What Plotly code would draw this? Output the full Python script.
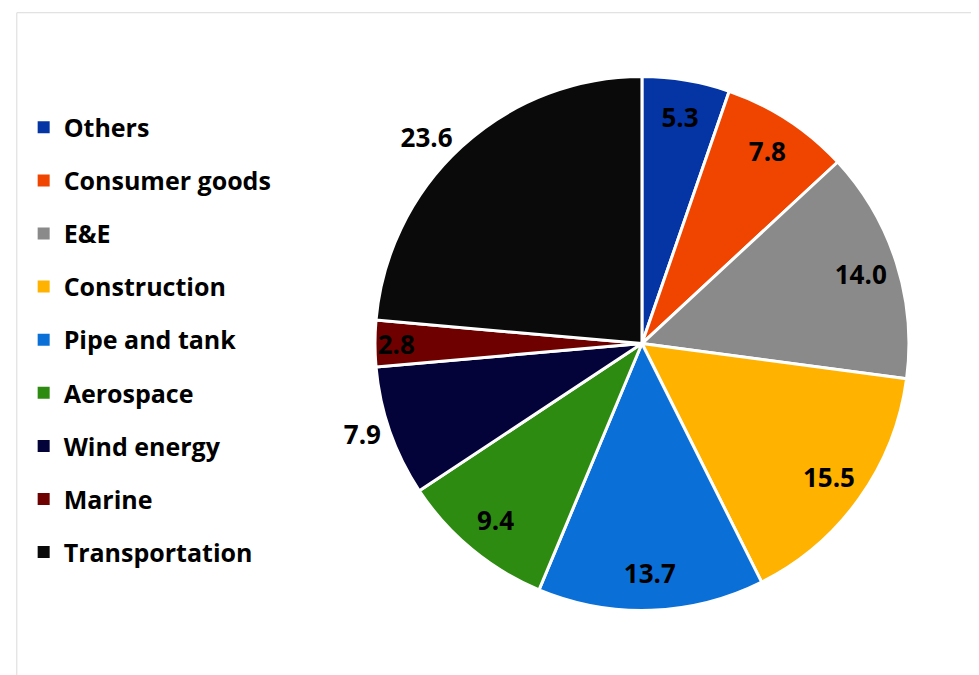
import plotly.graph_objects as go

categories = ["Others", "Consumer goods", "E&E", "Construction", "Pipe and tank",
              "Aerospace", "Wind energy", "Marine", "Transportation"]
values = [5.3, 7.8, 14.0, 15.5, 13.7, 9.4, 7.9, 2.8, 23.6]
colors = ["#0535A5", "#F04500", "#8A8A8A", "#FFB300", "#0A70D8",
          "#2E8B12", "#03033A", "#6E0000", "#0A0A0A"]
outside_label = [False, False, False, False, False, False, True, False, True]

FONT = "Open Sans"
DOMAIN = dict(x=[0.3739, 0.9212], y=[0.1074, 0.8984])
LABEL_FONT = dict(family=FONT, size=26, color="black", weight="bold")

fig = go.Figure()
# main pie: slices + outside labels
fig.add_trace(go.Pie(
    labels=categories, values=values, sort=False, direction="clockwise",
    rotation=0,
    marker=dict(colors=colors, line=dict(color="white", width=3)),
    text=[f"{v:.1f}" if o else "" for v, o in zip(values, outside_label)],
    texttemplate="%{text}", textposition="outside",
    textfont=LABEL_FONT,
    showlegend=False, hoverinfo="label+value",
    domain=DOMAIN,
))
# transparent ring: places inside labels toward the outer edge
fig.add_trace(go.Pie(
    labels=categories, values=values, sort=False, direction="clockwise",
    rotation=0, hole=0.72,
    marker=dict(colors=["rgba(0,0,0,0)"] * len(values), line=dict(width=0)),
    text=["" if o else f"{v:.1f}" for v, o in zip(values, outside_label)],
    texttemplate="%{text}", textposition="inside",
    insidetextorientation="horizontal",
    textfont=LABEL_FONT,
    showlegend=False, hoverinfo="skip",
    domain=DOMAIN,
))

for i, (c, col) in enumerate(zip(categories, colors)):
    fig.add_trace(go.Scatter(
        x=[None], y=[None], mode="markers", name=c,
        marker=dict(symbol="square", size=12, color=col),
        legendgroup=str(i), showlegend=True,
    ))

fig.update_layout(
    width=979, height=675,
    margin=dict(l=0, r=0, t=0, b=0),
    paper_bgcolor="white", plot_bgcolor="white",
    xaxis=dict(visible=False), yaxis=dict(visible=False),
    uniformtext=dict(minsize=26, mode="show"),
    legend=dict(x=0.016, y=0.857, xanchor="left", yanchor="top",
                font=dict(family=FONT, size=25, color="black", weight="bold"),
                tracegroupgap=17.6, itemclick=False),
    shapes=[dict(type="rect", xref="paper", yref="paper", x0=0.009, x1=0.996,
                 y0=0.01, y1=0.993, line=dict(color="#DADADA", width=1))],
)

fig.write_html("out.html")
